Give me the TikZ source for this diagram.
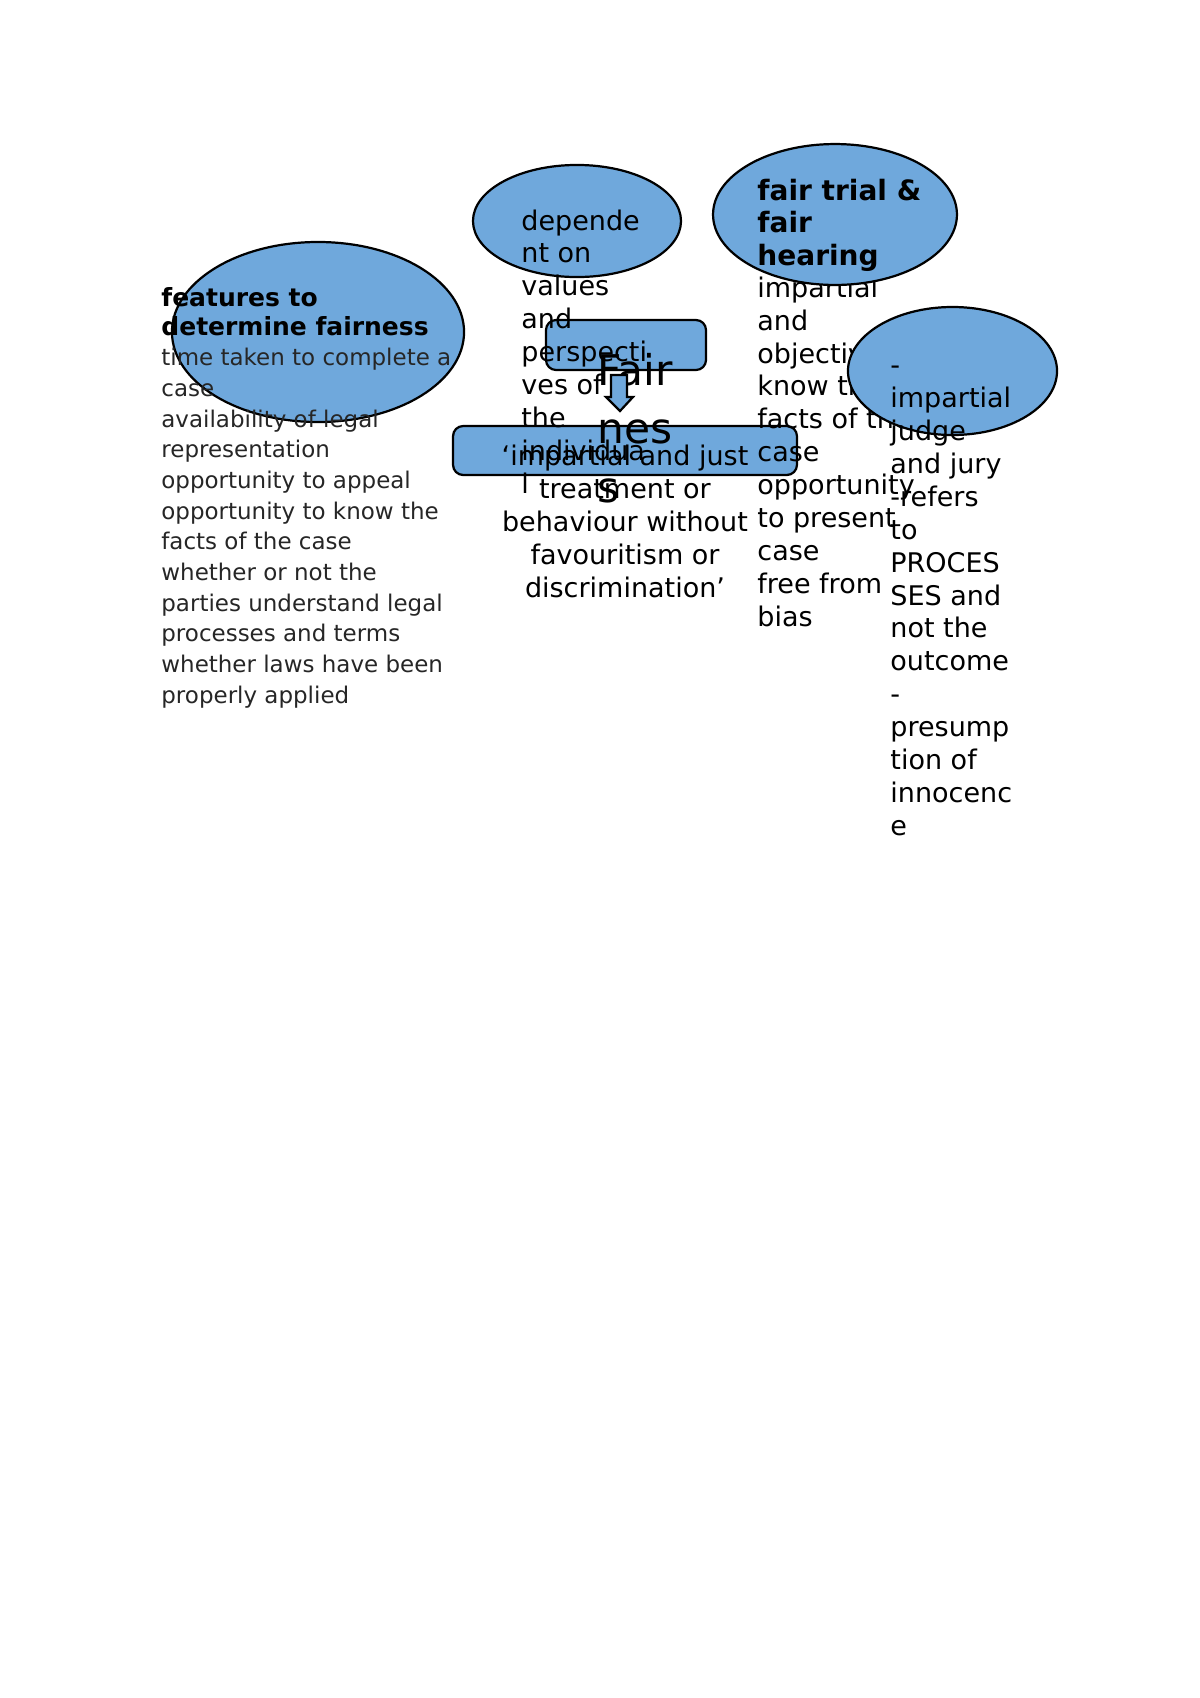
\documentclass[tikz,border=0pt]{standalone}
\usepackage{fontspec}
\setmainfont{DejaVu Sans}
\usepackage{xcolor}
\usetikzlibrary{shapes,positioning}
\definecolor{bubbleblue}{RGB}{111,168,220}
\tikzset{%
bubble/.style={ellipse, draw=black, line width=1.1pt, fill=bubbleblue, inner sep=0pt},
roundbox/.style={rectangle, rounded corners=5pt, draw=black, line width=1.1pt, fill=bubbleblue, inner sep=0pt},
plain/.style={inner sep=0pt, anchor=base west, align=left},
bodytxt/.style={plain, font=\fontsize{13.4}{16.3}\selectfont},
headtxt/.style={plain, font=\fontsize{13.9}{16.1}\selectfont\bfseries}
}

\begin{document}
\begin{tikzpicture}[x=0.49606pt, y=-0.49606pt]
	\useasboundingbox (0,0) rectangle (1200,1698);

	\node[roundbox, minimum width=79.4pt, minimum height=24.8pt] (topbox) at (626,345) {};
	\node[roundbox, minimum width=170.6pt, minimum height=24.3pt] (defbox) at (625,450.5) {};
	\node[plain, font=\fontsize{21}{29}\selectfont] (fair) at (597,502) {Fair\\nes\\s};
	\draw[line width=1.1pt, fill=bubbleblue] (611,375) -- (627,375) -- (627,397) -- (633,397) -- (620,411) -- (606,397) -- (611,397) -- cycle;

	\node[bubble, minimum width=144.9pt, minimum height=89.3pt] (features) at (318,332) {};
	\node[plain, font=\fontsize{12.4}{13.9}\selectfont\bfseries] (featurehead) at (161,335) {features to\\determine fairness};
	\node[plain, text=black!85, font=\fontsize{11.4}{15.2}\selectfont] (featurelist) at (161,703) {time taken to complete a\\case\\availability of legal\\representation\\opportunity to appeal\\opportunity to know the\\facts of the case\\whether or not the\\parties understand legal\\processes and terms\\whether laws have been\\properly applied};

	\node[bubble, minimum width=103.2pt, minimum height=55.6pt] (depend) at (577,221) {};
	\node[bodytxt] (dependtxt) at (521,493) {depende\\nt on\\values\\and\\perspecti\\ves of\\the\\individua\\l};

	\node[bodytxt, anchor=base, align=center] (definition) at (625,597) {‘impartial and just\\treatment or\\behaviour without\\favouritism or\\discrimination’};

	\node[bodytxt] (trialtxt) at (757,626) {impartial\\and\\objective\\know the\\facts of the\\case\\opportunity\\to present\\case\\free from\\bias};
	\node[bubble, minimum width=121.0pt, minimum height=69.9pt] (trial) at (835,214.5) {};
	\node[headtxt] (trialhead) at (757,265) {fair trial \&\\fair\\hearing};

	\node[bubble, minimum width=103.7pt, minimum height=63.5pt] (judge) at (952.5,371) {};
	\node[bodytxt] (judgetxt) at (890,835) {-\\impartial\\judge\\and jury\\-refers\\to\\PROCES\\SES and\\not the\\outcome\\-\\presump\\tion of\\innocenc\\e};
\end{tikzpicture}
\end{document}
